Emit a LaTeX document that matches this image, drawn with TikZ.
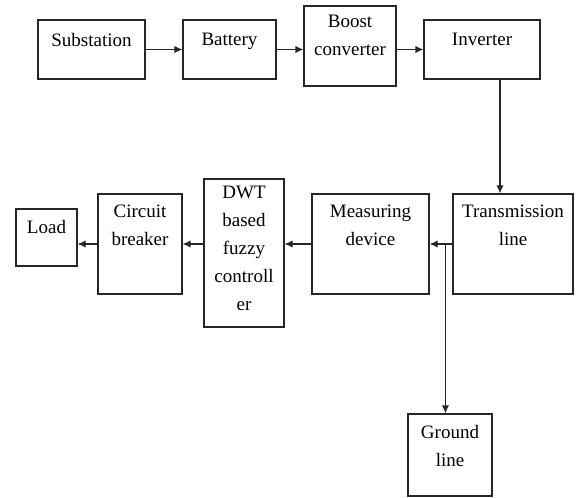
\documentclass[tikz,border=0pt]{standalone}
\usepackage{fontspec}
\setmainfont{Liberation Serif}
\usetikzlibrary{arrows.meta}
\tikzset{
  blk/.style={draw=black!85,line width=0.55pt,inner sep=0pt},
  txt/.style={font=\fontsize{9.5}{14}\selectfont,align=center,anchor=north,inner sep=0pt},
  arr/.style={draw=black!85,line width=0.55pt,-{Latex[length=4pt,width=3.6pt]}}
}
\begin{document}
\begin{tikzpicture}[x=0.5pt,y=-0.5pt]
  \useasboundingbox (0,0) rectangle (576,497);
  % top row
  \node[blk,minimum width=53.5pt,minimum height=29.5pt] (sub) at (91.5,49.5) {};
  \node[blk,minimum width=46.5pt,minimum height=29.5pt] (bat) at (229.5,49.5) {};
  \node[blk,minimum width=46pt,minimum height=40pt] (bst) at (350,46) {};
  \node[blk,minimum width=58pt,minimum height=29.5pt] (inv) at (482,49.5) {};
  % bottom row
  \node[blk,minimum width=30.5pt,minimum height=28.5pt] (load) at (46.5,237.5) {};
  \node[blk,minimum width=42pt,minimum height=50pt] (cb) at (140,244) {};
  \node[blk,minimum width=40pt,minimum height=74pt] (dwt) at (244,253) {};
  \node[blk,minimum width=58.5pt,minimum height=50pt] (meas) at (370.5,244) {};
  \node[blk,minimum width=60pt,minimum height=50pt] (tl) at (513,244) {};
  \node[blk,minimum width=42pt,minimum height=41pt] (gnd) at (450,455) {};
  % labels
  \node[txt] (sub-t) at ([yshift=-6.5pt]sub.north) {Substation};
  \node[txt] (bat-t) at ([yshift=-6.5pt]bat.north) {Battery};
  \node[txt] (bst-t) at ([yshift=-4.5pt]bst.north) {Boost\\converter};
  \node[txt] (inv-t) at ([yshift=-6.5pt]inv.north) {Inverter};
  \node[txt] (load-t) at ([yshift=-5.5pt]load.north) {Load};
  \node[txt] (cb-t) at ([yshift=-5.5pt]cb.north) {Circuit\\breaker};
  \node[txt] (dwt-t) at ([yshift=-3.5pt]dwt.north) {DWT\\based\\fuzzy\\controll\\er};
  \node[txt] (meas-t) at ([yshift=-5.5pt]meas.north) {Measuring\\device};
  \node[txt] (tl-t) at ([yshift=-5.5pt]tl.north) {Transmission\\line};
  \node[txt] (gnd-t) at ([yshift=-5.5pt]gnd.north) {Ground\\line};
  % connectors
  \draw[arr] (sub) -- (bat);
  \draw[arr] (bat.east) -- (bat.east -| bst.west);
  \draw[arr] (bat.east -| bst.east) -- (inv.west);
  \draw[arr] ([xshift=9pt]inv.south) -- ([xshift=9pt]inv.south |- tl.north);
  \draw[arr] (tl) -- (meas);
  \draw[arr] (meas.west) -- (meas.west -| dwt.east);
  \draw[arr] (dwt.west |- cb.east) -- (cb.east);
  \draw[arr] (cb.west) -- (cb.west -| load.east);
  \coordinate (tap) at ([xshift=-3.5pt]tl.west);
  \draw[arr] (tap) -- (tap |- gnd.north);
\end{tikzpicture}
\end{document}
